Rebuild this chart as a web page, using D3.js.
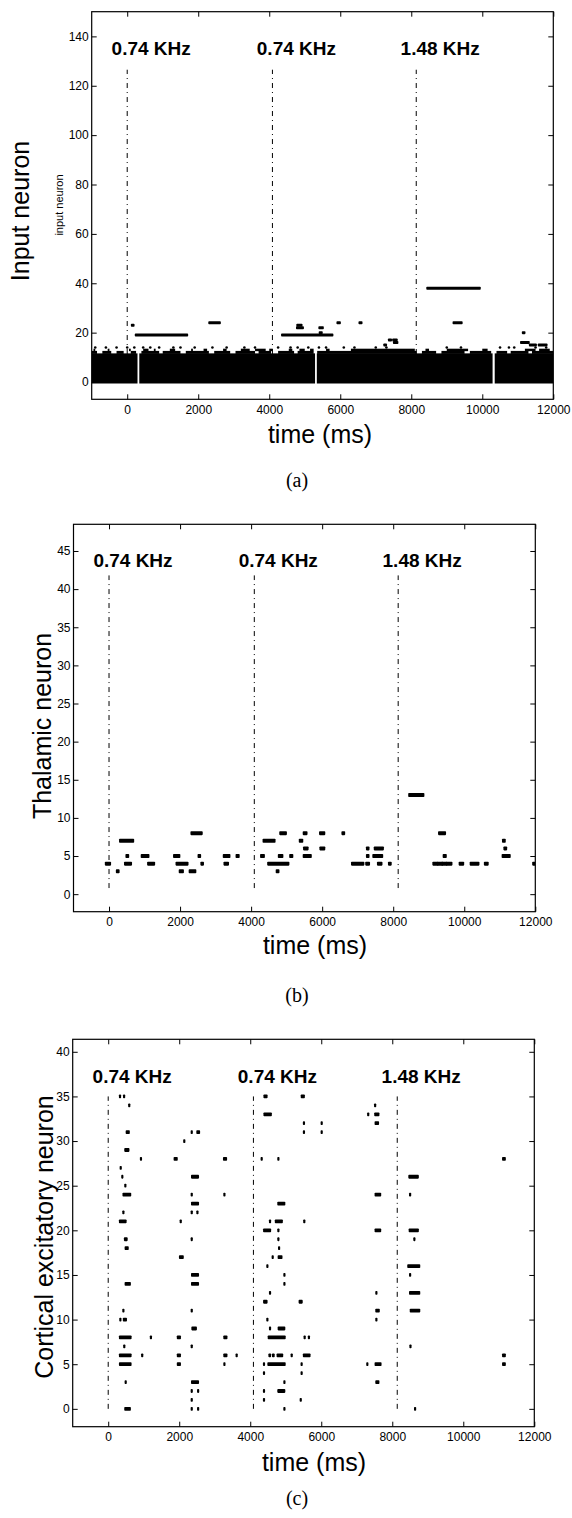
<!DOCTYPE html>
<meta charset="utf-8">
<script src="https://d3js.org/d3.v7.min.js"></script>
<title>Spike rasters</title>
<style>
  body { margin: 0; background: #fff; }
  .tick text { font-family: "Liberation Sans", Arial, sans-serif; font-size: 12px; fill: #000; }
  .tick line { stroke: #000; }
  .axlabel { font-family: "Liberation Sans", Arial, sans-serif; font-size: 25px; fill: #000; }
  .smalllabel { font-family: "Liberation Sans", Arial, sans-serif; font-size: 11px; fill: #000; }
  .stimlabel { font-family: "Liberation Sans", Arial, sans-serif; font-size: 19px; font-weight: bold; fill: #000; }
  .caption { font-family: "Liberation Serif", "Times New Roman", serif; font-size: 20px; fill: #000; }
</style>
<div id="chart"></div>
<script>
// ---- data ----
var timeDomain = [-1000, 12000];
var timeTicks = [0, 2000, 4000, 6000, 8000, 10000, 12000];
var stimOnsets = [0, 4090, 8140];
var stimLabels = ["0.74 KHz", "0.74 KHz", "1.48 KHz"];

var inputTicks = [0, 20, 40, 60, 80, 100, 120, 140];
var thalamicTicks = [0, 5, 10, 15, 20, 25, 30, 35, 40, 45];
var corticalTicks = [0, 5, 10, 15, 20, 25, 30, 35, 40];

// input layer: neurons 0-11 fire all the time, with short silent gaps
var inputDenseRows = d3.range(0, 12);
var inputDense = [[-1000, 290], [340, 5290], [5340, 10290], [10350, 12000]];
// ragged upper edge of the dense band
var inputRow12 = [[-1000, -850], [-700, -450], [-300, -100], [100, 250], [400, 900], [1000, 1500],
  [1650, 2300], [2450, 2900], [3050, 3600], [3700, 4050], [4250, 4700], [4800, 5250], [5350, 8150],
  [8300, 8700], [8850, 9500], [9650, 10250], [10400, 10700], [10800, 11300], [11400, 12000]];
var inputRow13 = [[-950, -900], [-550, -500], [50, 100], [450, 600], [750, 800], [1200, 1350],
  [1800, 1850], [2150, 2250], [2700, 2800], [3200, 3450], [3600, 3900], [4000, 4100], [4550, 4650],
  [4850, 5000], [5150, 5250], [5600, 5700], [6300, 8100], [8400, 8500], [9000, 9600], [10000, 10150],
  [11200, 11500], [11600, 11900]];
var inputRow14 = [-900, -600, -300, 0, 200, 450, 650, 900, 1300, 1500, 1900, 2400, 2800, 3300, 3600,
  4250, 4600, 4800, 5100, 5400, 5600, 6100, 6400, 7000, 7300, 9000, 9400, 10500, 10750, 10900, 11500, 11800];
// [neuron, start, end]
var inputBursts = [[23, 140, 170], [19, 250, 1680], [24, 2320, 2600], [19, 4370, 5770], [22, 4790, 4940],
  [23, 4800, 4900], [22, 5420, 5500], [20, 5430, 5470], [24, 5930, 5980], [24, 6550, 6590],
  [15, 7250, 7280], [17, 7380, 7420], [17, 7500, 7580], [16, 7520, 7600], [38, 8460, 9920],
  [24, 9200, 9410], [20, 11150, 11180], [16, 11100, 11300], [15, 11350, 11500], [15, 11600, 11800]];

var thalamicBursts = [
  [13, 8470, 8830],
  [8, 2340, 2590], [8, 4840, 4960], [8, 5500, 5540], [8, 5960, 6040], [8, 6590, 6600], [8, 9310, 9440],
  [7, 330, 660], [7, 4370, 4640], [7, 5390, 5420], [7, 11110, 11120],
  [6, 5510, 5570], [6, 5970, 6040], [6, 7280, 7285], [6, 7500, 7690], [6, 11150, 11160],
  [5, 510, 520], [5, 940, 1090], [5, 1850, 1960], [5, 2540, 2545], [5, 3250, 3370], [5, 3610, 3630],
  [5, 4300, 4340], [5, 4800, 4860], [5, 5120, 5140], [5, 5500, 5660], [5, 7280, 7285], [5, 7460, 7670],
  [5, 9440, 9460], [5, 11100, 11260],
  [4, -70, 10], [4, 470, 600], [4, 1120, 1250], [4, 1920, 2190], [4, 2620, 2625], [4, 3270, 3330],
  [4, 4500, 5030], [4, 6860, 7140], [4, 7260, 7300], [4, 7590, 7650], [4, 7900, 7910],
  [4, 9150, 9230], [4, 9280, 9360], [4, 9400, 9480], [4, 9530, 9620], [4, 9890, 9950],
  [4, 10200, 10380], [4, 10600, 10640], [4, 11960, 11990],
  [3, 240, 250], [3, 2010, 2060], [3, 2290, 2410], [3, 4740, 4750]];

var corticalBursts = [
  [35, 330, 335], [35, 445, 450], [35, 4400, 4460], [35, 5450, 5510],
  [34, 590, 595], [34, 7515, 7520],
  [33, 4400, 4580], [33, 7320, 7325], [33, 7520, 7610],
  [32, 5510, 5515], [32, 6010, 6015], [32, 7530, 7600],
  [31, 520, 580], [31, 2350, 2355], [31, 2510, 2560], [31, 5510, 5515], [31, 6010, 6015],
  [30, 2140, 2145],
  [29, 480, 570],
  [28, 920, 925], [28, 1870, 1930], [28, 3260, 3320], [28, 4320, 4325], [28, 4790, 4795], [28, 11120, 11170],
  [27, 350, 355],
  [26, 395, 400], [26, 2360, 2530], [26, 8480, 8720],
  [25, 480, 485],
  [24, 430, 620], [24, 2350, 2355], [24, 3270, 3275], [24, 7530, 7660], [24, 8500, 8505],
  [23, 2360, 2530], [23, 4790, 4960],
  [22, 425, 430], [22, 2350, 2355], [22, 2510, 2515],
  [21, 330, 490], [21, 2040, 2045], [21, 4555, 4560], [21, 4720, 4890], [21, 5520, 5525],
  [20, 4390, 4560], [20, 4790, 4795], [20, 7530, 7660], [20, 8490, 8720],
  [19, 470, 520], [19, 2350, 2355], [19, 4790, 4795], [19, 8620, 8625],
  [18, 490, 550], [18, 4810, 4815],
  [17, 2020, 2100], [17, 4630, 4635], [17, 4800, 4880],
  [16, 4480, 4485], [16, 8450, 8760],
  [15, 2360, 2530], [15, 4960, 4965], [15, 8500, 8505],
  [14, 490, 610], [14, 2360, 2530], [14, 4960, 4965],
  [13, 4555, 4560], [13, 7550, 7555], [13, 8500, 8760],
  [12, 4390, 4460], [12, 5390, 5450],
  [11, 425, 430], [11, 2350, 2355], [11, 7550, 7620], [11, 8520, 8760],
  [10, 340, 345], [10, 440, 500], [10, 4480, 4485], [10, 7550, 7555],
  [9, 2370, 2470], [9, 4555, 4560], [9, 4800, 4960],
  [8, 330, 630], [8, 1200, 1205], [8, 1960, 2020], [8, 3270, 3330], [8, 4520, 4970], [8, 5530, 5535], [8, 5650, 5655],
  [7, 450, 455], [7, 2350, 2355], [7, 8510, 8515],
  [6, 330, 630], [6, 955, 960], [6, 1960, 2020], [6, 3270, 3330], [6, 3615, 3620], [6, 4540, 4560],
  [6, 4640, 4660], [6, 4770, 4900], [6, 5165, 5170], [6, 5510, 5670], [6, 11120, 11170],
  [5, 330, 630], [5, 1960, 2020], [5, 3270, 3275], [5, 4385, 4390], [5, 4510, 4970], [5, 5445, 5450],
  [5, 7295, 7300], [5, 7530, 7670], [5, 11120, 11170],
  [4, 4385, 4390], [4, 5445, 5450],
  [3, 490, 495], [3, 2360, 2530], [3, 4960, 4965], [3, 7550, 7610],
  [2, 2350, 2355], [2, 2530, 2535], [2, 4385, 4390], [2, 4790, 4960],
  [1, 2350, 2355], [1, 4385, 4390], [1, 5420, 5425],
  [0, 480, 610], [0, 2350, 2355], [0, 2530, 2535], [0, 4960, 4965], [0, 8640, 8645]];

// ---- drawing ----
var svg = d3.select("#chart").append("svg")
    .attr("width", 572)
    .attr("height", 1518);

var fmt = d3.format("d");

function drawPanel(p) {
  var g = svg.append("g");
  var x = d3.scaleLinear().domain(timeDomain).range([p.left, p.right]);
  var y = d3.scaleLinear().domain(p.yDomain).range([p.bottom, p.top]);

  var clipId = "clip" + p.id;
  svg.append("clipPath").attr("id", clipId)
    .append("rect")
      .attr("x", p.left).attr("y", p.top)
      .attr("width", p.right - p.left).attr("height", p.bottom - p.top);

  // stimulus onset lines
  g.selectAll(".stim")
    .data(stimOnsets)
    .enter()
    .append("line")
      .attr("x1", function(d) { return x(d); })
      .attr("x2", function(d) { return x(d); })
      .attr("y1", y(p.lineSpan[0]))
      .attr("y2", y(p.lineSpan[1]))
      .attr("stroke", "#000")
      .attr("stroke-width", 1)
      .attr("stroke-dasharray", "5,4,1,4");

  g.selectAll(".stimlabel")
    .data(stimOnsets)
    .enter()
    .append("text")
      .attr("class", "stimlabel")
      .attr("x", function(d) { return x(d - 440); })
      .attr("y", y(p.labelLevel))
      .text(function(d, i) { return stimLabels[i]; });

  var marks = g.append("g").attr("clip-path", "url(#" + clipId + ")");
  if (p.extra) p.extra(marks, x, y);

  marks.selectAll(".burst")
    .data(p.bursts)
    .enter()
    .append("rect")
      .attr("x", function(d) { return x(d[1]) - p.markW / 2; })
      .attr("y", function(d) { return y(d[0]) - p.markH / 2; })
      .attr("width", function(d) { return x(d[2]) - x(d[1]) + p.markW; })
      .attr("height", p.markH)
      .attr("rx", 0.8)
      .attr("fill", "#000");

  // axes, ticks inward on all four sides
  g.append("g")
    .attr("transform", "translate(0," + p.bottom + ")")
    .call(d3.axisBottom(x).tickValues(timeTicks).tickFormat(fmt)
      .tickSizeInner(-5).tickSizeOuter(0).tickPadding(6));
  g.append("g")
    .attr("transform", "translate(0," + p.top + ")")
    .call(d3.axisTop(x).tickValues(timeTicks).tickSizeInner(-5).tickSizeOuter(0).tickFormat(""));
  g.append("g")
    .attr("transform", "translate(" + p.left + ",0)")
    .call(d3.axisLeft(y).tickValues(p.yTicks).tickFormat(fmt)
      .tickSizeInner(-5).tickSizeOuter(0).tickPadding(3));
  g.append("g")
    .attr("transform", "translate(" + p.right + ",0)")
    .call(d3.axisRight(y).tickValues(p.yTicks).tickSizeInner(-5).tickSizeOuter(0).tickFormat(""));
  g.selectAll(".domain").remove();
  g.selectAll(".tick text").attr("font-family", null).attr("font-size", null);

  g.append("rect")
    .attr("x", p.left).attr("y", p.top)
    .attr("width", p.right - p.left).attr("height", p.bottom - p.top)
    .attr("fill", "none")
    .attr("stroke", "#000")
    .attr("stroke-width", 1.2);

  // axis titles
  g.append("text")
    .attr("class", "axlabel")
    .attr("text-anchor", "middle")
    .attr("x", p.xlabelX)
    .attr("y", p.xlabelY)
    .text("time (ms)");

  g.append("text")
    .attr("class", "axlabel")
    .attr("text-anchor", "middle")
    .attr("transform", "translate(" + p.ylabelX + "," + p.ylabelY + ") rotate(-90)")
    .text(p.ylabel);

  g.append("text")
    .attr("class", "caption")
    .attr("text-anchor", "middle")
    .attr("x", 297)
    .attr("y", p.captionY)
    .text(p.caption);
}

drawPanel({
  id: "a", left: 91.7, right: 553.3, top: 11.7, bottom: 399.3,
  yDomain: [-7, 150], yTicks: inputTicks, lineSpan: [0, 126.5], labelLevel: 132.3,
  bursts: inputBursts, markW: 2.6, markH: 3,
  ylabel: "Input neuron", ylabelX: 29, ylabelY: 211,
  xlabelX: 320, xlabelY: 443, caption: "(a)", captionY: 487,
  extra: function(marks, x, y) {
    var lo = d3.min(inputDenseRows) - 0.6, hi = d3.max(inputDenseRows) + 0.6;
    marks.selectAll(".dense")
      .data(inputDense)
      .enter()
      .append("rect")
        .attr("x", function(d) { return x(d[0]); })
        .attr("width", function(d) { return x(d[1]) - x(d[0]); })
        .attr("y", y(hi))
        .attr("height", y(lo) - y(hi))
        .attr("fill", "#000");
    marks.selectAll(".row12")
      .data(inputRow12)
      .enter()
      .append("rect")
        .attr("x", function(d) { return x(d[0]); })
        .attr("width", function(d) { return x(d[1]) - x(d[0]); })
        .attr("y", y(12.6))
        .attr("height", y(11.4) - y(12.6))
        .attr("fill", "#000");
    marks.selectAll(".row13")
      .data(inputRow13)
      .enter()
      .append("rect")
        .attr("x", function(d) { return x(d[0]); })
        .attr("width", function(d) { return x(d[1]) - x(d[0]); })
        .attr("y", y(13.5))
        .attr("height", y(12.5) - y(13.5))
        .attr("fill", "#000");
    marks.selectAll(".row14")
      .data(inputRow14)
      .enter()
      .append("circle")
        .attr("cx", function(d) { return x(d); })
        .attr("cy", y(14))
        .attr("r", 1.3)
        .attr("fill", "#000");
  }
});

// small inner label of the input panel
svg.append("text")
  .attr("class", "smalllabel")
  .attr("text-anchor", "middle")
  .attr("transform", "translate(63,205) rotate(-90)")
  .text("input neuron");

drawPanel({
  id: "b", left: 73.5, right: 535.3, top: 524.3, bottom: 911.7,
  yDomain: [-2.3, 48.5], yTicks: thalamicTicks, lineSpan: [0.8, 41.8], labelLevel: 42.9,
  bursts: thalamicBursts, markW: 3.4, markH: 4,
  ylabel: "Thalamic neuron", ylabelX: 51, ylabelY: 726,
  xlabelX: 315, xlabelY: 954, caption: "(b)", captionY: 1002
});

drawPanel({
  id: "c", left: 72.7, right: 534.3, top: 1039.3, bottom: 1426.7,
  yDomain: [-2, 41.4], yTicks: corticalTicks, lineSpan: [0, 35], labelLevel: 36.5,
  bursts: corticalBursts, markW: 2, markH: 3.8,
  ylabel: "Cortical excitatory neuron", ylabelX: 53, ylabelY: 1237,
  xlabelX: 314, xlabelY: 1471, caption: "(c)", captionY: 1505
});
</script>
